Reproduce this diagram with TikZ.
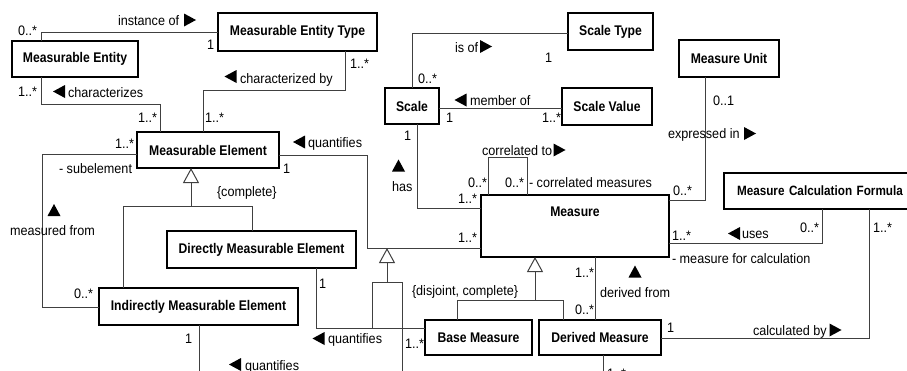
\documentclass[tikz,border=0pt]{standalone}
\usepackage{fontspec}
\setmainfont{Liberation Sans}[FakeStretch=0.92]
\newfontfamily\clsfont{Liberation Sans}[FakeStretch=0.87]
\usetikzlibrary{arrows.meta}
\newcommand{\pxu}{0.75pt}
\tikzset{
  box/.style={draw=black, line width=2*\pxu, inner sep=0pt, outer sep=0pt,
    anchor=north west, align=center,
    font=\clsfont\bfseries\fontsize{10.5pt}{12pt}\selectfont},
  lbl/.style={inner sep=0pt, outer sep=0pt, anchor=base west,
    font=\fontsize{10.3pt}{12pt}\selectfont},
  assoc/.style={draw=black!75, line width=1*\pxu},
  gen/.style={assoc, -{Triangle[open, length=15*\pxu, width=16*\pxu]}},
  dirR/.pic={\fill (-6,-6.5) -- (6,0) -- (-6,6.5) -- cycle;},
  dirL/.pic={\fill (6,-6.5) -- (-6,0) -- (6,6.5) -- cycle;},
  dirU/.pic={\fill (-6.5,6) -- (0,-6) -- (6.5,6) -- cycle;},
}
\begin{document}
\begin{tikzpicture}[x=0.75pt, y=-0.75pt]
\useasboundingbox (0,0) rectangle (907,371);
\fill[white] (0,0) rectangle (907,371);
\clip (0,0) rectangle (907,371);

% classes
\node[box, minimum width=126*\pxu, minimum height=36*\pxu] (ment) at (12,41) {Measurable Entity};
\node[box, minimum width=159*\pxu, minimum height=38*\pxu] (mett) at (218,13) {Measurable Entity Type};
\node[box, minimum width=142*\pxu, minimum height=36*\pxu] (mel) at (137,132) {Measurable Element};
\node[box, minimum width=189*\pxu, minimum height=37*\pxu] (dme) at (167,231) {Directly Measurable Element};
\node[box, minimum width=199*\pxu, minimum height=37*\pxu] (ime) at (99,288) {Indirectly Measurable Element};
\node[box, minimum width=54*\pxu, minimum height=36*\pxu] (scale) at (385,88) {Scale};
\node[box, minimum width=85*\pxu, minimum height=37*\pxu] (stype) at (568,13) {Scale Type};
\node[box, minimum width=90*\pxu, minimum height=37*\pxu] (svalue) at (562,88) {Scale Value};
\node[box, minimum width=100*\pxu, minimum height=37*\pxu] (munit) at (679,40) {Measure Unit};
\node[box, minimum width=188*\pxu, minimum height=62*\pxu,
      text height=15.75pt, text depth=30.75pt] (measure) at (481,195) {Measure};
\node[box, minimum height=36*\pxu, inner xsep=13*\pxu, text width=200*\pxu, align=left,
      font=\clsfont\bfseries\fontsize{10.1pt}{12pt}\selectfont] (mcf) at (724,173) {Measure Calculation Formula};
\node[box, minimum width=107*\pxu, minimum height=35*\pxu] (bm) at (425,320) {Base Measure};
\node[box, minimum width=122*\pxu, minimum height=35*\pxu] (dm) at (539,320) {Derived Measure};

% bend points
\coordinate (p1) at (41,32);
\coordinate (p2) at (160,104);
\coordinate (p3a) at (345,90);
\coordinate (p3b) at (203,90);
\coordinate (p4a) at (42,154);
\coordinate (p4b) at (42,307);
\coordinate (p5a) at (367,155);
\coordinate (p5b) at (367,248);
\coordinate (g1) at (191,206);
\coordinate (g1l) at (123,206);
\coordinate (g1r) at (252,206);
\coordinate (g2) at (535,300);
\coordinate (g2l) at (457,300);
\coordinate (g2r) at (563,300);
\coordinate (p8) at (595,300);
\coordinate (p9) at (316,328);
\coordinate (g3) at (387,282);
\coordinate (g3l) at (372,282);
\coordinate (g3r) at (402,282);
\coordinate (g3b) at (402,380);
\coordinate (p11) at (199,380);
\coordinate (p12) at (603,380);
\coordinate (p13) at (412,33);
\coordinate (p14) at (450,108);
\coordinate (p15) at (417,208);
\coordinate (p16a) at (488,157);
\coordinate (p16b) at (527,157);
\coordinate (p17) at (705,200);
\coordinate (p18) at (822,243);
\coordinate (p19) at (869,338);

% associations
\draw[assoc] (ment.north -| p1) |- (mett.west);
\draw[assoc] (ment.south -| p1) |- (p2) -- (p2 |- mel.north);
\draw[assoc] (mett.south -| p3a) -- (p3a) -- (p3b) -- (p3b |- mel.north);
\draw[assoc] (mel.west |- p4a) -- (p4a) -- (p4b) -- (ime.west |- p4b);
\draw[assoc] (mel.east |- p5a) -- (p5a) -- (p5b) -- (measure.west |- p5b);
\draw[assoc] (measure.south -| p8) -- (dm.north -| p8);
\draw[assoc] (dme.south -| p9) -- (p9) -- (bm.west |- p9);
\draw[assoc] (ime.south -| p11) -- (p11);
\draw[assoc] (dm.south -| p12) -- (p12);
\draw[assoc] (scale.north -| p13) -- (p13) -- (stype.west |- p13);
\draw[assoc] (scale.east |- p14) -- (svalue.west |- p14);
\draw[assoc] (scale.south -| p15) -- (p15) -- (measure.west |- p15);
\draw[assoc] (measure.north -| p16a) -- (p16a) -- (p16b) -- (p16b |- measure.north);
\draw[assoc] (munit.south -| p17) -- (p17) -- (measure.east |- p17);
\draw[assoc] (measure.east |- p18) -- (p18) -- (p18 |- mcf.south);
\draw[assoc] (mcf.south -| p19) -- (p19) -- (dm.east |- p19);

% generalizations
\draw[assoc] (ime.north -| g1l) -- (g1l) -- (g1r) -- (dme.north -| g1r);
\draw[gen] (g1) -- (g1 |- mel.south);
\draw[assoc] (bm.north -| g2l) -- (g2l) -- (g2r) -- (dm.north -| g2r);
\draw[gen] (g2) -- (g2 |- measure.south);
\draw[assoc] (g3l |- p9) -- (g3l) -- (g3r) -- (g3b);
\draw[gen] (g3) -- (g3 |- p5b);

% role names, multiplicities and association names
\node[lbl] (t1) at (118,26) {instance of};
\pic at (190,20) {dirR};
\node[lbl] (m1) at (18,36) {0..*};
\node[lbl] (m2) at (207,49) {1};
\node[lbl] (t2) at (68,97) {characterizes};
\pic at (59,91.5) {dirL};
\node[lbl] (m3) at (18,96) {1..*};
\node[lbl] (m4) at (138,122) {1..*};
\node[lbl] (m5) at (205,122) {1..*};
\node[lbl] (t3) at (240,83) {characterized by};
\pic at (230.5,76.5) {dirL};
\node[lbl] (m6) at (350,68) {1..*};
\node[lbl] (m7) at (115,148) {1..*};
\node[lbl] (r1) at (59,173) {- subelement};
\node[lbl] (m8) at (283,173) {1};
\node[lbl] (c1) at (217,196) {\{complete\}};
\node[lbl] (t4) at (10,235) {measured from};
\pic at (54,210) {dirU};
\node[lbl] (t5) at (308,147) {quantifies};
\pic at (299,142) {dirL};
\node[lbl] (m9) at (74,298) {0..*};
\node[lbl] (m10) at (185,343) {1};
\node[lbl] (m11) at (319,288) {1};
\node[lbl] (c2) at (412,295) {\{disjoint, complete\}};
\node[lbl] (m12) at (405,348) {1..*};
\node[lbl] (t6) at (328,343) {quantifies};
\pic at (318.5,338.5) {dirL};
\node[lbl] (t7) at (245,370) {quantifies};
\pic at (235,364.5) {dirL};
\node[lbl] (m13) at (575,277) {1..*};
\node[lbl] (m14) at (575,314) {0..*};
\node[lbl] (t8) at (600,297) {derived from};
\pic at (635,271.5) {dirU};
\node[lbl] (m15) at (607,378) {1..*};
\node[lbl] (m16) at (404,140) {1};
\node[lbl] (t9) at (392,191) {has};
\pic at (398.5,165.5) {dirU};
\node[lbl] (m17) at (458,203) {1..*};
\node[lbl] (m18) at (458,242) {1..*};
\node[lbl] (m19) at (468,187) {0..*};
\node[lbl] (m20) at (505,187) {0..*};
\node[lbl] (r2) at (529,187) {- correlated measures};
\node[lbl] (t10) at (482,155) {correlated to};
\pic at (559.5,150) {dirR};
\node[lbl] (m21) at (418,83) {0..*};
\node[lbl] (t11) at (455,52) {is of};
\pic at (486,46.5) {dirR};
\node[lbl] (m22) at (545,62) {1};
\node[lbl] (t12) at (470,105) {member of};
\pic at (460.5,100) {dirL};
\node[lbl] (m23) at (446,122) {1};
\node[lbl] (m24) at (542,122) {1..*};
\node[lbl] (m25) at (713,105) {0..1};
\node[lbl] (t13) at (668,138) {expressed in};
\pic at (750,133.5) {dirR};
\node[lbl] (m26) at (673,195) {0..*};
\node[lbl] (m27) at (672,240) {1..*};
\node[lbl] (t14) at (742,238) {uses};
\pic at (734,233.5) {dirL};
\node[lbl] (m28) at (800,232) {0..*};
\node[lbl] (m29) at (873,232) {1..*};
\node[lbl] (r3) at (672,263) {- measure for calculation};
\node[lbl] (t15) at (753,335) {calculated by};
\pic at (835.5,330) {dirR};
\node[lbl] (m30) at (667,332) {1};
\end{tikzpicture}
\end{document}
